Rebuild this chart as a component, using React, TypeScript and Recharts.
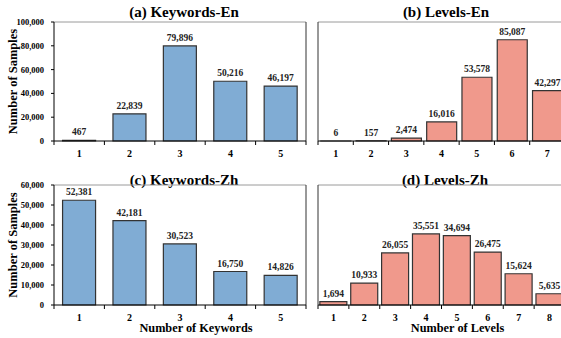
import * as React from 'react';
import { BarChart, Bar, XAxis, YAxis, LabelList } from 'recharts';

// sample counts per number of keywords / levels
const kwCats = ['1', '2', '3', '4', '5'];
const kwEnVals = [467, 22839, 79896, 50216, 46197];
const kwZhVals = [52381, 42181, 30523, 16750, 14826];

const lvEnCats = ['1', '2', '3', '4', '5', '6', '7'];
const lvEnVals = [6, 157, 2474, 16016, 53578, 85087, 42297];

const lvZhCats = ['1', '2', '3', '4', '5', '6', '7', '8'];
const lvZhVals = [1694, 10933, 26055, 35551, 34694, 26475, 15624, 5635];

const enTicks = [0, 20000, 40000, 60000, 80000, 100000];
const zhTicks = [0, 10000, 20000, 30000, 40000, 50000, 60000];

const FONT = '"Liberation Serif", "Times New Roman", Times, serif';
const BLUE = '#80acd4';
const SALMON = '#f0998c';

const fmt = (v: any) => Number(v).toLocaleString('en-US');

// category label plus short marks on the band edges
const EdgeTick = (props: any) => {
  const { x, y, payload, index, visibleTicksCount } = props;
  const half = payload && payload.offset ? payload.offset : 0;
  const last = index === visibleTicksCount - 1;
  return (
    <g>
      {half ? <line x1={x - half} x2={x - half} y1={y - 9} y2={y - 5} stroke="#000" /> : null}
      {half && last ? <line x1={x + half} x2={x + half} y1={y - 9} y2={y - 5} stroke="#000" /> : null}
      <text x={x} y={y + 6.5} textAnchor="middle" fontFamily={FONT} fontWeight="bold" fontSize={10} fill="#000">
        {payload.value}
      </text>
    </g>
  );
};

const Panel = (props: any) => {
  const { left, top, width, height, margin, cats, vals, fill, ticks, showY, xLabel, gap, title, titleX } = props;
  const data = cats.map((k: string, i: number) => ({ k, v: vals[i] }));
  const yMax = ticks[ticks.length - 1];
  const txt = { fontFamily: FONT, fontWeight: 'bold', fill: '#000' };

  return (
    <div style={{ position: 'absolute', left, top, width, height }}>
      <div style={{
        position: 'absolute', left: titleX - left - 100, top: 3, width: 200,
        textAlign: 'center', fontFamily: FONT, fontWeight: 'bold', fontSize: 15, lineHeight: '18px'
      }}>{title}</div>
      <BarChart width={width} height={height} data={data} margin={margin} barCategoryGap={gap}>
        {/* frame: gray top edge, dark right edge */}
        <XAxis xAxisId="top" orientation="top" dataKey="k" height={1} tick={false} tickLine={false}
          axisLine={{ stroke: '#9a9a9a' }} />
        <YAxis yAxisId="right" orientation="right" type="number" domain={[0, 1]} width={1} tick={false} tickLine={false}
          axisLine={{ stroke: '#333' }} />
        <XAxis dataKey="k" height={1} tickLine={false} axisLine={{ stroke: '#000' }} tickSize={4} tickMargin={5} interval={0}
          tick={<EdgeTick />}
          label={xLabel ? { value: xLabel, position: 'bottom', offset: 17, dx: 16, style: { ...txt, fontSize: 12.3 } } : undefined} />
        {showY ? (
          <YAxis domain={[0, yMax]} ticks={ticks} interval={0} width={44} axisLine={{ stroke: '#000' }}
            tickLine={{ stroke: '#000' }} tickSize={3} tickMargin={7} tickFormatter={fmt} tick={{ ...txt, fontSize: 8.5 }}
            label={{ value: 'Number of Samples', angle: -90, position: 'insideLeft', offset: 3,
              style: { ...txt, fontSize: 12.5, textAnchor: 'middle' } }} />
        ) : (
          <YAxis domain={[0, yMax]} width={1} tick={false} tickLine={false} axisLine={{ stroke: '#333' }} />
        )}
        <Bar dataKey="v" fill={fill} stroke="#333" strokeWidth={1.2} isAnimationActive={false}>
          <LabelList dataKey="v" position="top" offset={5} formatter={fmt}
            fontFamily={FONT} fontWeight="bold" fontSize={9.5} fill="#222" />
        </Bar>
      </BarChart>
    </div>
  );
};

export default function App() {
  return (
    <div style={{ position: 'absolute', left: 0, top: 0, width: 561, height: 338, overflow: 'hidden', background: '#fff' }}>
      <Panel left={0} top={0} width={320} height={168} margin={{ top: 21, right: 13, left: 10, bottom: 26 }}
        cats={kwCats} vals={kwEnVals} fill={BLUE} ticks={enTicks} showY gap="17%"
        title="(a) Keywords-En" titleX={184} />
      <Panel left={300} top={0} width={280} height={168} margin={{ top: 21, right: 14, left: 17, bottom: 26 }}
        cats={lvEnCats} vals={lvEnVals} fill={SALMON} ticks={enTicks} gap="8%"
        title="(b) Levels-En" titleX={446} />
      <Panel left={0} top={168} width={320} height={170} margin={{ top: 16, right: 13, left: 10, bottom: 32 }}
        cats={kwCats} vals={kwZhVals} fill={BLUE} ticks={zhTicks} showY gap="17%"
        xLabel="Number of Keywords" title="(c) Keywords-Zh" titleX={184} />
      <Panel left={300} top={168} width={280} height={170} margin={{ top: 16, right: 14, left: 17, bottom: 32 }}
        cats={lvZhCats} vals={lvZhVals} fill={SALMON} ticks={zhTicks} gap="6%"
        xLabel="Number of Levels" title="(d) Levels-Zh" titleX={445} />
    </div>
  );
}
